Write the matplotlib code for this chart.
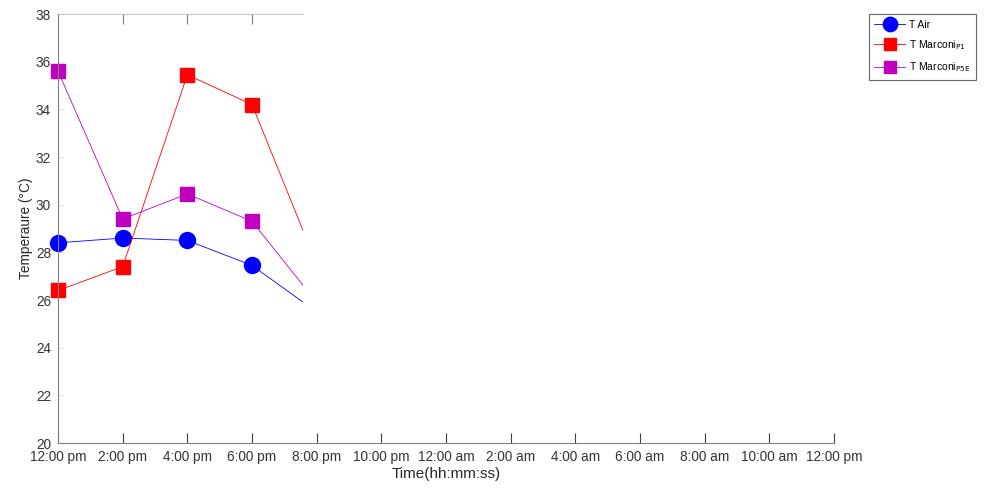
import matplotlib.pyplot as plt
from matplotlib.patches import Rectangle

# horas desde las 12:00 pm
horas = [0, 2, 4, 6, 8]
t_air = [28.4, 28.6, 28.5, 27.45, 25.5]
t_p1 = [26.4, 27.4, 35.45, 34.2, 27.5]
t_p5e = [35.6, 29.4, 30.45, 29.3, 25.9]

tick_horas = list(range(0, 25, 2))
tick_labels = ["12:00 pm", "2:00 pm", "4:00 pm", "6:00 pm", "8:00 pm", "10:00 pm",
               "12:00 am", "2:00 am", "4:00 am", "6:00 am", "8:00 am", "10:00 am", "12:00 pm"]
y_ticks = [20, 22, 24, 26, 28, 30, 32, 34, 36, 38]
x_corte = 7.57  # el área visible termina aquí

plt.rcParams['font.family'] = ['Liberation Sans', 'DejaVu Sans']
fig = plt.figure(figsize=(10.04, 4.93), dpi=100)
ax = fig.add_axes([0.0578, 0.1014, 0.7729, 0.8702])

clip = Rectangle((-3, 15), x_corte + 3, 28, transform=ax.transData)

l1, = ax.plot(horas, t_air, '-o', color='#0000ff', lw=0.6, ms=11.5, label='T Air')
l2, = ax.plot(horas, t_p1, '-s', color='#ff0000', lw=0.6, ms=9.5, label='T Marconi$_{\\mathrm{P1}}$')
l3, = ax.plot(horas, t_p5e, '-s', color='#bf00bf', lw=0.6, ms=9.5, label='T Marconi$_{\\mathrm{P5E}}$')
for l in (l1, l2, l3):
    l.set_clip_path(clip)

ax.set_xlim(0, 24)
ax.set_ylim(20, 38)
ax.set_xticks(tick_horas)
ax.set_xticklabels(tick_labels)
ax.set_yticks(y_ticks)

for s in ('top', 'right'):
    ax.spines[s].set_visible(False)
for s in ('left', 'bottom'):
    ax.spines[s].set_color('#808080')
    ax.spines[s].set_linewidth(0.8)

# borde superior y marcas cortados
ax.plot([0, x_corte], [38, 38], color='#c8c8c8', lw=0.8, clip_on=False)
ax.plot(horas[1:4], [38] * 3, ls='none', marker=3, ms=7, color='#808080', mew=0.8, clip_on=False)

ax.tick_params(axis='x', direction='in', length=7, color='#404040', labelsize=9.8,
               labelcolor='#333333', pad=5)
ax.tick_params(axis='y', direction='in', length=4, color='#e6e6e6', labelsize=9.8,
               labelcolor='#333333', pad=5)

ax.set_xlabel('Time(hh:mm:ss)', fontsize=11, color='#262626', labelpad=2)
ax.set_ylabel('Temperaure (°C)', fontsize=9.8, color='#262626', labelpad=2)

leg = ax.legend(loc='upper left', bbox_to_anchor=(1.038, 1.012), fontsize=7.5,
                frameon=True, fancybox=False, handlelength=2.9, borderpad=0.55,
                labelspacing=0.8, handletextpad=0.4, markerscale=0.9)
leg.get_frame().set_edgecolor('#404040')
leg.get_frame().set_linewidth(0.8)

fig.savefig('out.png', dpi=100)
